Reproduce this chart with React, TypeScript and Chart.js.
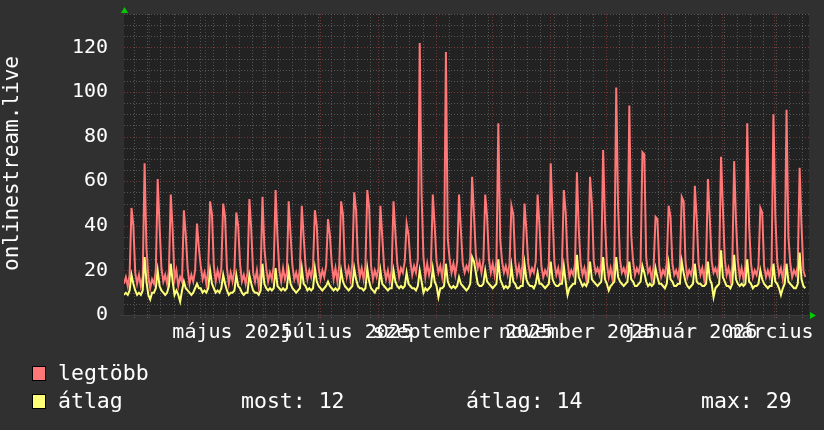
import { useEffect, useRef } from "react";
import { Chart, registerables } from "chart.js";

Chart.register(...registerables);

// Daily values, day 0 = 18 March 2025 (one row per week, starting with the weekend peak)
const legtobb: number[] = [
  14, 17, 13, 18,
  48, 40, 19, 14, 18, 13, 17,
  68, 30, 17, 12, 16, 14, 20,
  61, 40, 21, 15, 18, 14, 20,
  54, 38, 16, 20, 13, 17, 15,
  47, 36, 21, 14, 18, 15, 20,
  41, 30, 22, 16, 19, 14, 20,
  51, 45, 22, 15, 20, 16, 21,
  50, 44, 21, 14, 19, 15, 20,
  46, 40, 23, 15, 18, 14, 19,
  52, 38, 19, 15, 20, 13, 19,
  53, 30, 21, 15, 19, 16, 22,
  56, 35, 20, 15, 21, 16, 19,
  51, 36, 22, 16, 19, 15, 21,
  49, 35, 22, 16, 20, 17, 22,
  47, 40, 21, 16, 20, 17, 22,
  43, 36, 23, 16, 21, 15, 22,
  51, 45, 22, 17, 21, 16, 23,
  55, 47, 24, 17, 21, 16, 22,
  56, 48, 22, 16, 20, 17, 21,
  49, 35, 21, 16, 20, 15, 20,
  51, 37, 23, 17, 21, 19, 24,
  41, 36, 24, 18, 22, 19, 25,
  122, 54, 26, 17, 23, 18, 22,
  54, 40, 24, 19, 22, 17, 24,
  118, 34, 25, 19, 23, 18, 24,
  54, 38, 23, 19, 22, 20, 26,
  62, 45, 27, 21, 24, 19, 24,
  54, 44, 25, 19, 23, 18, 24,
  86, 34, 24, 19, 22, 18, 23,
  49, 45, 24, 18, 22, 17, 23,
  50, 38, 23, 18, 21, 19, 24,
  54, 40, 22, 17, 20, 18, 23,
  68, 44, 23, 18, 21, 16, 22,
  56, 46, 24, 17, 20, 18, 23,
  64, 38, 23, 18, 21, 16, 22,
  62, 50, 24, 19, 21, 18, 23,
  74, 42, 23, 17, 21, 16, 24,
  102, 48, 25, 19, 21, 18, 23,
  94, 36, 24, 18, 21, 19, 23,
  73, 72, 26, 19, 21, 16, 22,
  44, 43, 22, 17, 20, 18, 23,
  49, 44, 23, 18, 20, 17, 22,
  53, 51, 24, 17, 20, 18, 22,
  58, 43, 23, 18, 21, 16, 23,
  61, 43, 24, 19, 21, 18, 23,
  71, 48, 25, 18, 21, 16, 22,
  69, 42, 24, 17, 21, 16, 22,
  86, 40, 23, 17, 20, 18, 22,
  48, 46, 22, 17, 20, 17, 22,
  90, 45, 24, 18, 21, 16, 23,
  92, 35, 23, 17, 20, 18, 22,
  66, 40, 20, 17,
];

const atlag: number[] = [
  9, 10, 9, 11,
  18, 14, 11, 9, 10, 9, 11,
  26, 15, 9, 7, 10, 10, 12,
  20, 13, 11, 10, 9, 10, 13,
  23, 15, 9, 11, 9, 6, 11,
  15, 12, 11, 10, 9, 10, 12,
  14, 12, 12, 10, 11, 10, 12,
  20, 14, 12, 10, 11, 10, 12,
  18, 14, 11, 9, 10, 10, 11,
  18, 13, 12, 10, 9, 10, 10,
  18, 14, 11, 10, 10, 9, 11,
  23, 14, 12, 11, 12, 11, 12,
  21, 13, 12, 11, 12, 11, 12,
  20, 14, 12, 11, 10, 11, 12,
  21, 14, 13, 11, 12, 11, 12,
  21, 15, 13, 12, 11, 12, 13,
  15, 13, 12, 11, 12, 11, 12,
  20, 15, 13, 12, 11, 12, 13,
  21, 16, 13, 12, 12, 11, 12,
  21, 15, 12, 11, 10, 12, 12,
  20, 14, 13, 12, 11, 12, 12,
  20, 15, 13, 12, 13, 12, 13,
  19, 14, 13, 12, 12, 11, 13,
  20, 15, 10, 12, 11, 12, 13,
  21, 15, 13, 8, 12, 12, 13,
  23, 15, 13, 12, 13, 12, 13,
  17, 14, 13, 12, 11, 12, 14,
  26, 24, 19, 14, 13, 13, 14,
  20, 15, 14, 13, 12, 13, 14,
  25, 16, 14, 12, 13, 12, 13,
  22, 15, 14, 12, 12, 13, 13,
  23, 16, 14, 13, 13, 12, 14,
  19, 14, 14, 13, 12, 13, 14,
  24, 16, 14, 13, 13, 14, 14,
  22, 15, 9, 12, 13, 14, 14,
  27, 17, 15, 13, 14, 13, 15,
  24, 16, 15, 14, 13, 14, 15,
  26, 16, 14, 11, 13, 14, 15,
  26, 17, 15, 14, 13, 14, 15,
  24, 16, 15, 13, 13, 14, 15,
  22, 19, 15, 13, 14, 13, 14,
  21, 17, 14, 14, 13, 12, 14,
  23, 16, 15, 13, 13, 14, 14,
  24, 19, 15, 13, 12, 13, 14,
  23, 15, 14, 14, 13, 13, 14,
  24, 16, 14, 8, 12, 13, 14,
  29, 17, 15, 13, 13, 12, 14,
  27, 16, 14, 13, 14, 13, 14,
  25, 15, 14, 12, 13, 13, 14,
  20, 16, 14, 13, 12, 13, 13,
  23, 15, 14, 12, 9, 12, 14,
  23, 15, 14, 13, 12, 12, 14,
  28, 16, 13, 12,
];

const seriesNames = ["legtöbb", "átlag"];
const seriesColors = ["#ff7777", "#ffff77"];
const legendStats = ["most: 12", "átlag: 14", "max: 29"];
const yTitle = "onlinestream.live";
const yTicks = [0, 20, 40, 60, 80, 100, 120];
const yMax = 135;
const xSpanDays = 366;
const xLabelDays = [58, 119, 181, 242, 303, 362];
const xLabels = [
  "május 2025",
  "július 2025",
  "szeptember 2025",
  "november 2025",
  "január 2026",
  "március 2026",
];
const monthLineDays = [13.5, 43.5, 74.5, 104.5, 135.5, 166.5, 196.5, 227.5, 257.5, 288.5, 319.5, 347.5];
const firstWeekLineDay = 5.5;

const MONO = '"DejaVu Sans Mono", monospace';

const rrdPlugin = {
  id: "rrdStyle",
  beforeDraw(chart: any) {
    const { ctx, chartArea: a, width, height } = chart;
    ctx.save();
    ctx.fillStyle = "#303030";
    ctx.fillRect(0, 0, width, height);
    ctx.fillStyle = "#222222";
    ctx.fillRect(a.left, a.top, a.right - a.left, a.bottom - a.top);
    ctx.restore();
  },
  beforeDatasetsDraw(chart: any) {
    const { ctx, chartArea: a, scales } = chart;
    const xs = scales.x;
    const ys = scales.y;
    ctx.save();
    ctx.lineWidth = 1;
    ctx.setLineDash([1, 2]);
    for (let v = 5; v <= yMax; v += 5) {
      const y = Math.round(ys.getPixelForValue(v)) + 0.5;
      ctx.strokeStyle = v % 20 === 0 ? "rgba(150,60,60,0.75)" : "rgba(120,120,120,0.6)";
      ctx.beginPath();
      ctx.moveTo(a.left, y);
      ctx.lineTo(a.right, y);
      ctx.stroke();
    }
    ctx.strokeStyle = "rgba(120,120,120,0.6)";
    for (let d = firstWeekLineDay; d < xSpanDays; d += 7) {
      if (monthLineDays.some((m) => Math.abs(m - d) < 0.6)) continue;
      const x = Math.round(xs.getPixelForValue(d)) + 0.5;
      ctx.beginPath();
      ctx.moveTo(x, a.top);
      ctx.lineTo(x, a.bottom + 3);
      ctx.stroke();
    }
    ctx.strokeStyle = "rgba(150,60,60,0.75)";
    for (const d of monthLineDays) {
      const x = Math.round(xs.getPixelForValue(d)) + 0.5;
      ctx.beginPath();
      ctx.moveTo(x, a.top);
      ctx.lineTo(x, a.bottom + 3);
      ctx.stroke();
    }
    ctx.setLineDash([]);
    ctx.strokeStyle = "#3c3c3c";
    ctx.beginPath();
    ctx.moveTo(a.left - 4, a.bottom + 0.5);
    ctx.lineTo(a.right, a.bottom + 0.5);
    ctx.stroke();
    ctx.restore();
  },
  afterDraw(chart: any) {
    const { ctx, chartArea: a } = chart;
    ctx.save();
    ctx.fillStyle = "#00cc00";
    ctx.beginPath();
    ctx.moveTo(a.left - 3, a.top - 1);
    ctx.lineTo(a.left + 4, a.top - 1);
    ctx.lineTo(a.left + 0.5, a.top - 7);
    ctx.closePath();
    ctx.fill();
    ctx.beginPath();
    ctx.moveTo(a.right + 1, a.bottom - 3);
    ctx.lineTo(a.right + 1, a.bottom + 4);
    ctx.lineTo(a.right + 7, a.bottom + 0.5);
    ctx.closePath();
    ctx.fill();

    ctx.fillStyle = "#ffffff";
    ctx.font = `21px ${MONO}`;
    ctx.textAlign = "center";
    ctx.textBaseline = "middle";
    ctx.translate(13, 163.5);
    ctx.rotate(-Math.PI / 2);
    ctx.fillText(yTitle, 0, 0);
    ctx.setTransform(1, 0, 0, 1, 0, 0);

    const rows = [374, 402];
    ctx.font = `21.5px ${MONO}`;
    ctx.textAlign = "left";
    ctx.textBaseline = "middle";
    seriesNames.forEach((name, i) => {
      const cy = rows[i];
      ctx.fillStyle = seriesColors[i];
      ctx.fillRect(32, cy - 8, 14, 15);
      ctx.strokeStyle = "#000000";
      ctx.lineWidth = 1;
      ctx.strokeRect(32.5, cy - 7.5, 13, 14);
      ctx.fillStyle = "#ffffff";
      ctx.fillText(name, 58, cy);
    });
    const statX = [241, 466, 701];
    legendStats.forEach((s, i) => ctx.fillText(s, statX[i], rows[1]));
    ctx.restore();
  },
};

export default function App() {
  const ref = useRef<HTMLCanvasElement | null>(null);

  useEffect(() => {
    if (!ref.current) return;
    const maxPts = legtobb.map((v, i) => ({ x: i, y: v }));
    const avgPts = atlag.map((v, i) => ({ x: i, y: v }));
    const tickFont = { family: MONO, size: 20 };
    const chart = new Chart(ref.current, {
      type: "line",
      data: {
        datasets: [
          {
            label: seriesNames[1],
            data: avgPts,
            borderColor: seriesColors[1],
            borderWidth: 2,
            pointRadius: 0,
            fill: false,
            tension: 0,
            order: 0,
          },
          {
            label: seriesNames[0],
            data: maxPts,
            borderColor: seriesColors[0],
            borderWidth: 2,
            pointRadius: 0,
            fill: false,
            tension: 0,
            order: 1,
          },
        ],
      },
      options: {
        animation: false,
        responsive: false,
        devicePixelRatio: 1,
        events: [],
        layout: { padding: { left: 0, top: 14, right: 15, bottom: 0 } },
        plugins: { legend: { display: false }, tooltip: { enabled: false } },
        scales: {
          x: {
            type: "linear",
            min: 0,
            max: xSpanDays,
            grid: { display: false, drawTicks: false },
            border: { display: false },
            afterBuildTicks: (s: any) => {
              s.ticks = xLabelDays.map((v) => ({ value: v }));
            },
            afterFit: (s: any) => {
              s.height = 115;
              s.paddingLeft = 0;
              s.paddingRight = 0;
            },
            ticks: {
              autoSkip: false,
              maxRotation: 0,
              minRotation: 0,
              padding: 6,
              color: "#ffffff",
              font: tickFont,
              callback: (_v: any, i: number) => xLabels[i],
            },
          },
          y: {
            type: "linear",
            min: 0,
            max: yMax,
            grid: { display: false, drawTicks: false },
            border: { display: false },
            afterBuildTicks: (s: any) => {
              s.ticks = yTicks.map((v) => ({ value: v }));
            },
            afterFit: (s: any) => {
              s.width = 124;
              s.paddingTop = 0;
              s.paddingBottom = 0;
            },
            ticks: {
              padding: 16,
              color: "#ffffff",
              font: tickFont,
            },
          },
        },
      } as any,
      plugins: [rrdPlugin],
    });
    return () => chart.destroy();
  }, []);

  return (
    <div style={{ position: "absolute", left: 0, top: 0, width: 824, height: 430, background: "#303030" }}>
      <canvas ref={ref} width={824} height={430} style={{ display: "block" }} />
    </div>
  );
}
